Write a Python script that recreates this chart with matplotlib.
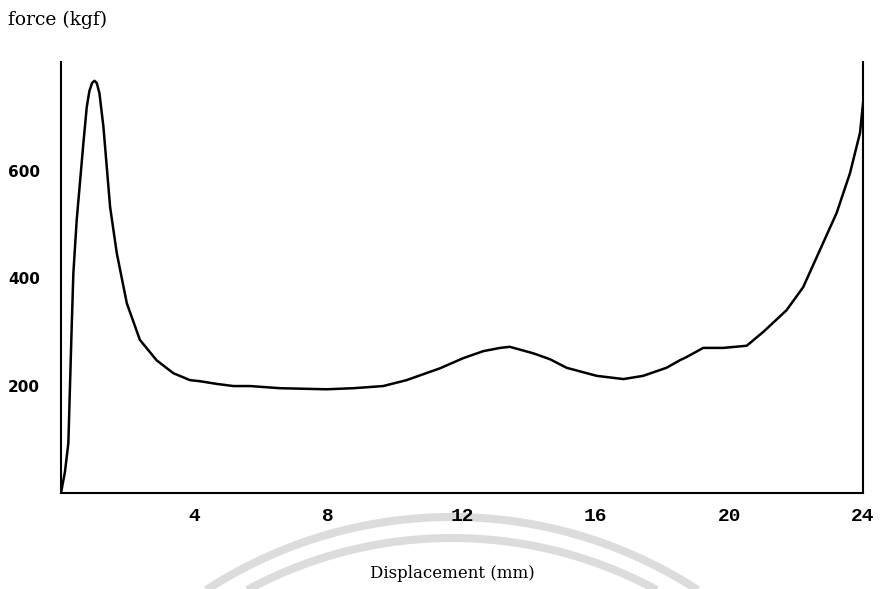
import matplotlib.pyplot as plt
import numpy as np

# force-displacement curve
displacement = [
    0.0, 0.12, 0.22, 0.32, 0.37, 0.47, 0.67, 0.77, 0.85, 0.93, 1.0, 1.07,
    1.15, 1.27, 1.47, 1.67, 1.97, 2.36, 2.86, 3.36, 3.86, 4.16, 4.66, 5.16,
    5.66, 6.55, 7.95, 8.75, 9.64, 10.34, 11.34, 12.04, 12.64, 13.14, 13.43,
    14.13, 14.63, 15.13, 16.03, 16.83, 17.42, 18.12, 18.52, 18.72, 19.22,
    19.82, 20.52, 21.02, 21.71, 22.21, 22.71, 23.21, 23.61, 23.91, 24.0,
]
force = [
    0, 40, 93, 309, 409, 508, 651, 718, 748, 763, 767, 763,
    744, 681, 532, 446, 353, 285, 247, 223, 210, 208, 203, 199,
    199, 195, 193, 195, 199, 210, 232, 251, 264, 270, 272,
    260, 249, 233, 218, 212, 218, 233, 247, 253, 270,
    270, 274, 300, 340, 383, 452, 521, 595, 670, 725,
]

x_ticks = [4, 8, 12, 16, 20, 24]
y_ticks = [200, 400, 600]

W, H = 881, 589
fig = plt.figure(figsize=(W / 100, H / 100), dpi=100)

# faint watermark arcs behind the chart (scan background)
bg = fig.add_axes([0, 0, 1, 1], zorder=0)
bg.set_xlim(0, W)
bg.set_ylim(H, 0)
bg.axis("off")
theta = np.linspace(0, np.pi, 400)
for r in (450, 429):
    bg.plot(452 + r * np.cos(theta), 967 - r * np.sin(theta),
            color="#dcdcdc", lw=5.8, solid_capstyle="butt")

left, right, top, bottom = 61, 863, 62, 493
ax = fig.add_axes([left / W, 1 - bottom / H, (right - left) / W, (bottom - top) / H], zorder=1)
ax.patch.set_alpha(0)

ax.plot(displacement, force, color="black", lw=1.8, solid_joinstyle="round")

ax.set_xlim(0, 24)
ax.set_ylim(0, 802)

for side in ("left", "bottom", "right"):
    ax.spines[side].set_linewidth(1.5)
ax.spines["top"].set_visible(False)

ax.set_xticks(x_ticks)
ax.set_xticklabels([str(t) for t in x_ticks], family="Liberation Mono",
                   fontweight="bold", fontsize=14)
ax.set_yticks(y_ticks)
ax.set_yticklabels([str(t) for t in y_ticks], family="DejaVu Sans",
                   fontweight="bold", fontsize=11)
ax.tick_params(axis="x", length=0, pad=11)
ax.tick_params(axis="y", length=0, pad=15)

fig.text(8 / W, 1 - 20 / H, "force (kgf)", family="DejaVu Serif",
         fontsize=13.5, va="center", ha="left")
fig.text(452 / W, 1 - 574 / H, "Displacement (mm)", family="DejaVu Serif",
         fontsize=12, va="center", ha="center")

fig.savefig("out.png", dpi=100)
